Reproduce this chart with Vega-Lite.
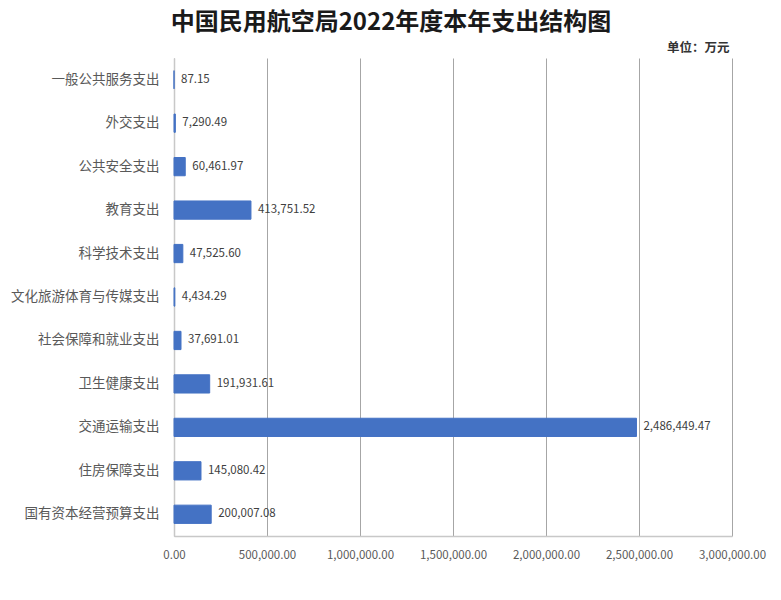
{
  "$schema": "https://vega.github.io/schema/vega-lite/v6.json",
  "width": 558,
  "height": 478,
  "autosize": {"type": "none"},
  "padding": {"left": 174, "top": 58, "right": 49, "bottom": 64},
  "background": "white",
  "config": {
    "font": "Noto Sans CJK SC",
    "view": {"stroke": null}
  },
  "title": {
    "text": "中国民用航空局2022年度本年支出结构图",
    "fontSize": 24,
    "fontWeight": "bold",
    "color": "#1a1a1a",
    "anchor": "middle",
    "dx": -62,
    "offset": 6
  },
  "data": {
    "values": [
      {"category": "一般公共服务支出", "value": 87.15},
      {"category": "外交支出", "value": 7290.49},
      {"category": "公共安全支出", "value": 60461.97},
      {"category": "教育支出", "value": 413751.52},
      {"category": "科学技术支出", "value": 47525.60},
      {"category": "文化旅游体育与传媒支出", "value": 4434.29},
      {"category": "社会保障和就业支出", "value": 37691.01},
      {"category": "卫生健康支出", "value": 191931.61},
      {"category": "交通运输支出", "value": 2486449.47},
      {"category": "住房保障支出", "value": 145080.42},
      {"category": "国有资本经营预算支出", "value": 200007.08}
    ]
  },
  "encoding": {
    "y": {
      "field": "category",
      "type": "nominal",
      "sort": null,
      "scale": {"paddingInner": 0.58, "paddingOuter": 0.29},
      "axis": {
        "title": null,
        "ticks": false,
        "labelPadding": 15,
        "labelFontSize": 13.5,
        "labelColor": "#595959",
        "domainColor": "#c8c8c8",
        "domainWidth": 1.5,
        "grid": false
      }
    }
  },
  "layer": [
    {
      "mark": {"type": "bar", "color": "#4472C4", "stroke": "#4472C4", "strokeWidth": 1},
      "encoding": {
        "x": {
          "field": "value",
          "type": "quantitative",
          "scale": {"domain": [0, 3000000], "nice": false},
          "axis": {
            "title": null,
            "values": [0, 500000, 1000000, 1500000, 2000000, 2500000, 3000000],
            "format": ",.2f",
            "ticks": false,
            "labelPadding": 13,
            "labelFontSize": 11.5,
            "labelColor": "#595959",
            "labelFlush": false,
            "domainColor": "#c8c8c8",
            "domainWidth": 1.5,
            "grid": true,
            "gridColor": "#a6a6a6",
            "gridWidth": 1
          }
        }
      }
    },
    {
      "mark": {"type": "text", "align": "left", "dx": 7, "fontSize": 11.5, "color": "#404040"},
      "encoding": {
        "x": {
          "field": "value",
          "type": "quantitative",
          "axis": {
            "orient": "top",
            "title": "单位：万元",
            "titleAnchor": "end",
            "titleAlign": "right",
            "titleFontSize": 12.5,
            "titleFontWeight": "bold",
            "titleColor": "#333333",
            "titlePadding": 4,
            "titleX": 555,
            "labels": false,
            "ticks": false,
            "domain": false,
            "grid": false
          }
        },
        "text": {"field": "value", "type": "quantitative", "format": ",.2f"}
      }
    }
  ],
  "resolve": {"axis": {"x": "independent"}}
}
